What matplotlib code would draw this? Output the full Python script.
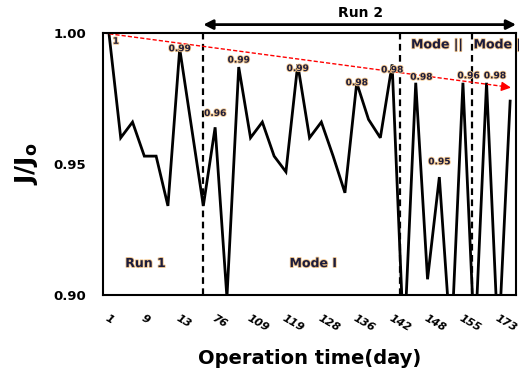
### Imports ###

import matplotlib
matplotlib.use('Agg')
from matplotlib import pyplot as plt
from matplotlib import patheffects as pe

### Data ###

tick_labels = ['1', '9', '13', '76', '109', '119', '128', '136', '142', '148', '155', '173']

# J/Jo per sampling point (values under 0.90 get clipped by the axis)
ratio = [1.000, 0.960, 0.966, 0.953, 0.953, 0.934, 0.994, 0.964, 0.934, 0.964,
         0.899, 0.987, 0.960, 0.966, 0.953, 0.947, 0.988, 0.960, 0.966, 0.953,
         0.939, 0.981, 0.967, 0.960, 0.988, 0.880, 0.981, 0.906, 0.945, 0.880,
         0.981, 0.880, 0.981, 0.880, 0.974]

label_idx = [0, 6, 9, 11, 16, 21, 24, 26, 28, 30, 32]
label_text = ['1', '0.99', '0.96', '0.99', '0.99', '0.98', '0.98', '0.98', '0.95', '0.96', '0.98']

# phase boundaries (sample index)
boundaries = [8, 24.7, 30.8]

### Plot ###

plt.rcParams['font.family'] = ['DejaVu Sans']

fig = plt.figure(figsize=(5.19, 3.80), dpi=100)
ax = fig.add_axes([0.1985, 0.2237, 0.7958, 0.6895])

x = list(range(len(ratio)))
ax.plot(x, ratio, color='black', lw=2.0, solid_joinstyle='miter')

ax.set_xlim(-0.5, len(ratio) - 0.5)
ax.set_ylim(0.90, 1.00)

# Phase separators
for b in boundaries:
    ax.axvline(b, color='black', ls=(0, (3, 2)), lw=1.6)

# Data labels
halo = [pe.withStroke(linewidth=1.2, foreground='#f2c58a')]
offsets = {0: (5, -6), 6: (0, 0), 9: (0, 10), 11: (0, 5), 16: (0, -3), 21: (0, 0),
           24: (0, -4), 26: (4, 4), 28: (0, 11), 30: (4, 5), 32: (6, 5)}
for i, t in zip(label_idx, label_text):
    ax.annotate(t, xy=(i, ratio[i]), xytext=offsets[i], textcoords='offset points',
                ha='center', va='center', fontsize=6.5, fontweight='bold',
                color='#1c1c3c', path_effects=halo)

# Red trend arrow
ax.plot([-0.5, 33.6], [1.000, 0.9795], color='red', ls=(0, (3, 1.5)), lw=1.0, clip_on=False)
ax.annotate('', xy=(34.3, 0.979), xytext=(33.3, 0.9796),
            arrowprops=dict(arrowstyle='-|>', color='red', lw=1.0, mutation_scale=14),
            annotation_clip=False)

# Run 2 arrow
ax.annotate('', xy=(8, 1.0032), xytext=(34.5, 1.0032),
            arrowprops=dict(arrowstyle='<|-|>', color='black', lw=2, mutation_scale=14,
                            shrinkA=0, shrinkB=0),
            annotation_clip=False)
ax.text(21.3, 1.0076, 'Run 2', ha='center', va='center', fontsize=10,
        fontweight='bold', clip_on=False)

# Phase names
ax.text(3.1, 0.912, 'Run 1', ha='center', va='center', fontsize=9,
        fontweight='bold', color='#1c1c3c', path_effects=halo)
ax.text(17.3, 0.912, 'Mode I', ha='center', va='center', fontsize=9,
        fontweight='bold', color='#1c1c3c', path_effects=halo)
ax.text(25.6, 0.9955, 'Mode ||', ha='left', va='center', fontsize=9,
        fontweight='bold', color='#1c1c3c', path_effects=halo)
ax.text(30.9, 0.9955, 'Mode |||', ha='left', va='center', fontsize=9,
        fontweight='bold', color='#1c1c3c', path_effects=halo, clip_on=False)

# Axes styling
ax.set_yticks([0.90, 0.95, 1.00])
ax.set_yticklabels(['0.90', '0.95', '1.00'], fontsize=9.5, fontweight='bold')
ax.set_xticks(range(0, 34, 3))
ax.set_xticklabels(tick_labels, fontsize=8, fontweight='bold', style='italic',
                   rotation=-30, ha='left', va='top', rotation_mode='anchor')
ax.tick_params(axis='both', length=0)
ax.tick_params(axis='y', pad=12)
ax.tick_params(axis='x', pad=13)
for s in ax.spines.values():
    s.set_linewidth(1.5)

ax.set_ylabel(r'$\mathbf{J/J_o}$', fontsize=18, labelpad=10)
ax.set_xlabel('Operation time(day)', fontsize=14, fontweight='bold', labelpad=11)

fig.savefig('out.png', dpi=100)
